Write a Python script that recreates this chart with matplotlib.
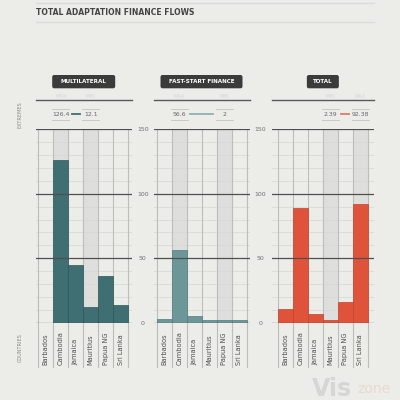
import numpy as np
import matplotlib.pyplot as plt
from matplotlib.patches import FancyBboxPatch

# data
countries = ['Barbados', 'Cambodia', 'Jamaica', 'Mauritius', 'Papua NG', 'Sri Lanka']
multilateral = [np.nan, 126.4, 44.7, 12.1, 36.2, 13.5]
fast_start = [3.2, 56.6, 5.3, 2.2, 2.0, 2.4]
total = [10.4, 88.7, 6.5, 2.39, 16.0, 92.38]
panel_titles = ['MULTILATERAL', 'FAST-START FINANCE', 'TOTAL']
yticks = [0, 50, 100, 150]

series = [multilateral, fast_start, total]
bar_colors = ['#3f6f73', '#6c9698', '#e0533b']
edge_colors = ['#2f5659', '#557c7e', '#c4432e']
dash_colors = ['#3f6e72', '#8fb0b2', '#e67763']

BG = '#ecece9'
W, H = 400, 400
fig = plt.figure(figsize=(4, 4), dpi=100, facecolor=BG)

# overlay in pixel coordinates for titles and decorations
ov = fig.add_axes([0, 0, 1, 1])
ov.set_xlim(0, W)
ov.set_ylim(H, 0)
ov.axis('off')

ov.plot([36, 374], [3, 3], color='#dcdcda', lw=1)
ov.plot([36, 374], [22, 22], color='#dcdcda', lw=1)
ov.text(36, 12.5, 'TOTAL ADAPTATION FINANCE FLOWS', fontsize=5.5,
        fontweight='bold', color='#454545', va='center', ha='left')

ov.text(20, 115, 'EXTREMES', rotation=90, fontsize=3.6, color='#8a8a8a',
        ha='center', va='center')
ov.text(20, 348, 'COUNTRIES', rotation=90, fontsize=3.6, color='#8a8a8a',
        ha='center', va='center')

# watermark
ov.text(312, 396, 'Vis', fontsize=17, fontweight='bold', color='#d6d6d4',
        ha='left', va='baseline')
ov.text(357, 393, 'zone', fontsize=10, color='#ead9cd', ha='left', va='baseline')

col_w = 15.0
col_start = [38.3, 156.7, 277.7]
line_ext = [(35.7, 131.7), (153.5, 249.5), (271.7, 374)]
box_w = [63, 82, 32]
y_top, y_bot = 129.3, 322.7
ax_h = y_bot - y_top

def ay(ypx):
    # pixel y -> axes fraction of the panel axes
    return (y_bot - ypx) / ax_h

for k in range(3):
    vals = np.array(series[k], dtype=float)
    x0, x1 = line_ext[k]
    xl = -0.5 - (col_start[k] - x0) / col_w
    xr = 5.5 + (x1 - (col_start[k] + 6 * col_w)) / col_w
    ax = fig.add_axes([x0 / W, 1 - y_bot / H, (x1 - x0) / W, ax_h / H])
    ax.set_facecolor('none')
    ax.set_xlim(xl, xr)
    ax.set_ylim(0, 150)
    for s in ax.spines.values():
        s.set_visible(False)

    idx = np.arange(len(countries))
    i_max = int(np.nanargmax(vals))
    i_min = int(np.nanargmin(vals))
    ext = sorted([i_max, i_min])

    # highlighted extreme columns
    ax.bar(ext, [150, 150], width=1.0, color='#dededc', zorder=0.5)
    for v in range(10, 150, 10):
        if v % 50:
            ax.axhline(v, color='#d9d9d7', lw=0.6, zorder=1)
    for xv in np.arange(-0.5, 6.0, 1.0):
        ax.axvline(xv, ymin=ay(367), ymax=1, color='#bcbcba', lw=0.8,
                   zorder=1.2, clip_on=False)
    ax.bar(idx, vals, width=1.0, color=bar_colors[k], edgecolor=edge_colors[k],
           linewidth=0.5, zorder=2)
    for v in yticks:
        ax.axhline(v, color='#4f4f4f', lw=0.9, zorder=3)

    if k < 2:
        ax.yaxis.tick_right()
        ax.set_yticks(yticks)
        ax.tick_params(axis='y', length=0, pad=8, labelsize=4.5,
                       labelcolor='#707070')
        for t in ax.get_yticklabels():
            t.set_horizontalalignment('center')
    else:
        ax.set_yticks([])
    ax.set_xticks([])

    trans = ax.get_xaxis_transform()
    for i, name in enumerate(countries):
        ax.text(i, ay(365), name, rotation=90, ha='center', va='bottom',
                fontsize=4.8, color='#4f4f4f', transform=trans, clip_on=False)

    # extremes row
    for j, i in enumerate(ext):
        ax.plot([i - 0.57, i + 0.57], [ay(109.3)] * 2, color='#c9c9c7', lw=0.7,
                transform=trans, clip_on=False)
        ax.plot([i - 0.57, i + 0.57], [ay(119.5)] * 2, color='#c9c9c7', lw=0.7,
                transform=trans, clip_on=False)
        ax.text(i, ay(114.3), '{:g}'.format(vals[i]), ha='center', va='center',
                fontsize=4.4, color='#666666', transform=trans, clip_on=False)
        ax.text(i, ay(97), 'MAX' if i == i_max else 'MIN', ha='center',
                va='center', fontsize=3.6, color='#d6d6d4', transform=trans,
                clip_on=False)
    ax.plot([ext[0] + 0.75, ext[1] - 0.75], [ay(114.3)] * 2, color=dash_colors[k],
            lw=1.3, transform=trans, clip_on=False)

    # panel header
    cx = (x0 + x1) / 2
    ov.plot([x0, x1], [100, 100], color='#5a5a5a', lw=1.0)
    ov.add_patch(FancyBboxPatch((cx - box_w[k] / 2, 75), box_w[k], 13.3,
                                boxstyle='round,pad=0,rounding_size=2',
                                facecolor='#3b3b3b', edgecolor='none'))
    ov.text(cx, 81.8, panel_titles[k], ha='center', va='center', fontsize=4.1,
            fontweight='bold', color='white')

fig.savefig('out.png', dpi=100, facecolor=BG)
